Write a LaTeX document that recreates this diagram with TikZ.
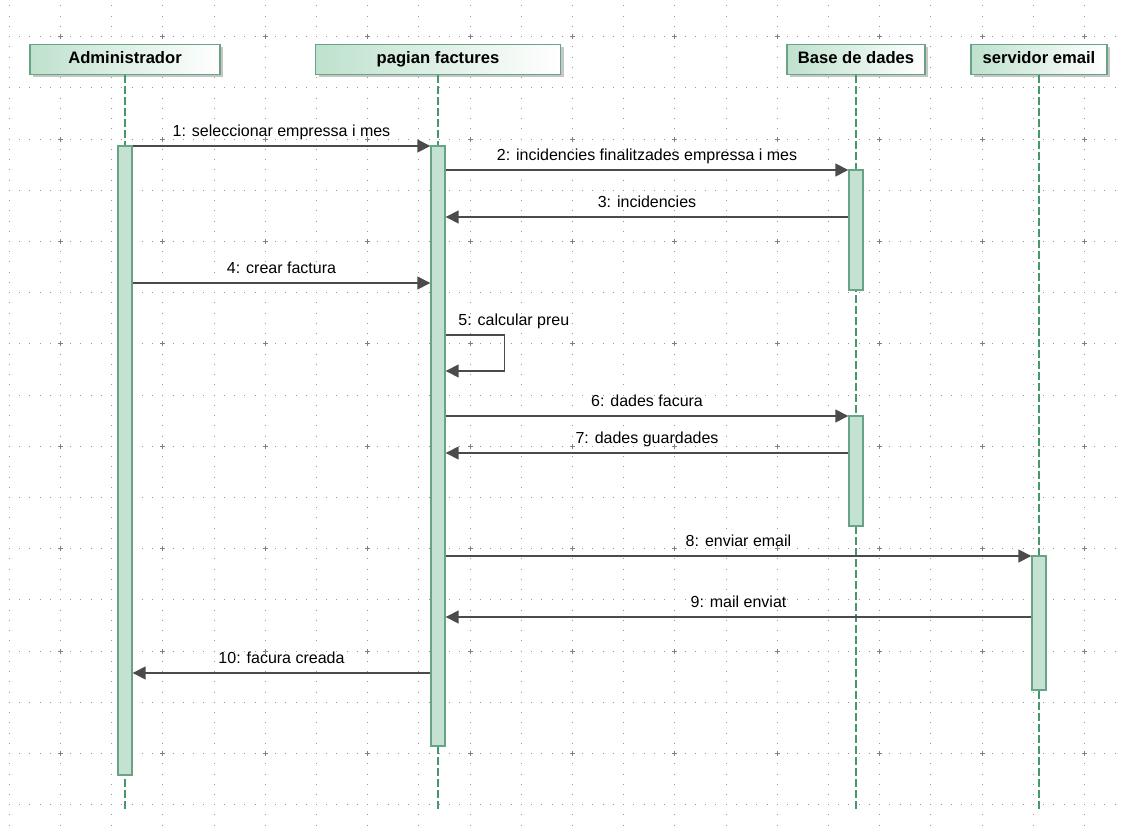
\documentclass[tikz,border=0pt]{standalone}
\usepackage{fontspec}
\setmainfont{Liberation Sans}
\usetikzlibrary{arrows.meta}
\usetikzlibrary{shadows}
\definecolor{boxgreen}{RGB}{190,225,205}
\definecolor{boxline}{RGB}{104,163,134}
\definecolor{barfill}{RGB}{196,226,209}
\definecolor{lifegreen}{RGB}{70,150,110}
\definecolor{msggray}{RGB}{75,75,75}
\definecolor{dotgray}{RGB}{150,150,150}
\begin{document}
\begin{tikzpicture}[x=0.5pt,y=-0.5pt,
    griddots/.style={draw=dotgray,line width=0.55pt,dash pattern=on 0.5pt off 4.62pt},
    gridcross/.style={draw=gray,line width=0.5pt},
    lifebox/.style={draw=boxline,line width=0.7pt,left color=boxgreen,right color=white,
      minimum height=15pt,inner sep=0pt,font=\fontsize{8.3}{10}\selectfont\bfseries,
      text height=6pt,text depth=1.7pt,
      drop shadow={shadow xshift=1.5pt,shadow yshift=-1.5pt,opacity=.45}},
    lifeline/.style={draw=lifegreen,line width=0.7pt,dash pattern=on 4pt off 1.5pt},
    actbar/.style={draw=boxline,fill=barfill,line width=0.7pt,minimum width=7pt,inner sep=0pt},
    msg/.style={draw=msggray,line width=0.75pt,-{Triangle[length=6.5pt,width=6.5pt]}},
    msgfont/.style={font=\fontsize{8}{9.6}\selectfont,text height=6pt,text depth=1.7pt,inner sep=0pt},
    msglabel/.style={msgfont,midway,above=2.9pt}]
    \useasboundingbox (0,0) rectangle (1125,834);

    \foreach \k in {0,...,15}
      \draw[griddots] (8.8,{36.7+51.2*\k}) -- (1125,{36.7+51.2*\k});
    \foreach \k in {0,...,21}
      \draw[griddots] ({9.3+51.2*\k},5.5) -- ({9.3+51.2*\k},834);
    \foreach \i in {0,...,10}
      \foreach \j in {0,...,7}
        \draw[gridcross] ({60.5+102.4*\i},{36.7+102.4*\j}) +(-2.5,0) -- +(2.5,0) +(0,-2.5) -- +(0,2.5);

    \foreach \n/\x/\w/\t in {admin/125/95pt/Administrador,pag/438/122.5pt/pagian factures,
        base/856/69pt/Base de dades,mail/1039/68pt/servidor email}
      \node[lifebox,minimum width=\w] (\n) at (\x,59.5) {\t};

    \coordinate (lifeend) at (0,811);
    \foreach \n in {admin,pag,base,mail}
      \draw[lifeline] (\n.south) -- (\n |- lifeend);

    \foreach \n/\x/\top/\bot in {adminbar/125/146/775,pagbar/438/146/746,basebarA/856/170/290,
        basebarB/856/416/526,mailbar/1039/556/690}
      \node[actbar,minimum height={(\bot-\top)*0.5pt}] (\n) at (\x,{(\top+\bot)/2}) {};

    \foreach \a/\b/\y/\t in {adminbar.east/pagbar.west/146/{1: seleccionar empressa i mes},
        pagbar.east/basebarA.west/170/{2: incidencies finalitzades empressa i mes},
        basebarA.west/pagbar.east/217/{3: incidencies},
        adminbar.east/pagbar.west/283/{4: crear factura},
        pagbar.east/basebarB.west/416/{6: dades facura},
        basebarB.west/pagbar.east/453/{7: dades guardades},
        pagbar.east/mailbar.west/556/{8: enviar email},
        mailbar.west/pagbar.east/617/{9: mail enviat},
        pagbar.west/adminbar.east/673/{10: facura creada}} {
      \coordinate (m) at (0,\y);
      \draw[msg] (\a |- m) -- node[msglabel] {\t} (\b |- m);
    }

    \coordinate (self1) at (0,335);
    \coordinate (self2) at (0,371);
    \draw[msg] (pagbar.east |- self1) -- ++(59,0) -- ++(0,36) -- (pagbar.east |- self2);
    \node[msgfont,anchor=west] (calc) at (458,321) {5: calcular preu};
\end{tikzpicture}
\end{document}
